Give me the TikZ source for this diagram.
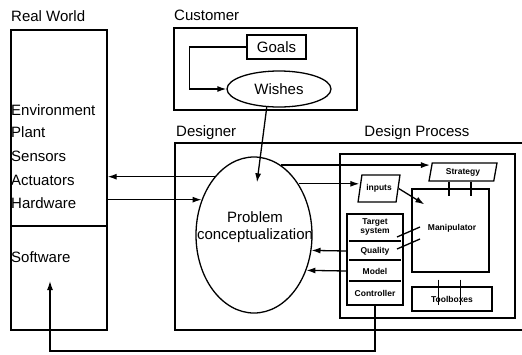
\documentclass[tikz,border=0pt]{standalone}
\usepackage{fontspec}
\setmainfont{Liberation Sans}
\usetikzlibrary{shapes.geometric,arrows.meta}

\tikzstyle{box}=[draw, line width=1.3pt, inner sep=0pt]
\tikzstyle{com}=[line width=1.3pt, -{Latex[length=9pt,width=6pt]}]
\tikzstyle{link}=[line width=1.3pt]
\tikzstyle{lbl}=[inner sep=0pt, font=\fontsize{15}{17}\selectfont]
\tikzstyle{sml}=[inner sep=0pt, font=\fontsize{8.5}{9.5}\selectfont\bfseries]
\tikzstyle{slant}=[trapezium, trapezium stretches=true]

\begin{document}
\begin{tikzpicture}[x=1pt, y=-1pt]
      \useasboundingbox (0,0) rectangle (522,354);

      % real world
      \node[lbl, anchor=west] (rwl) at (11,16) {Real World};
      \node[box, minimum width=96, minimum height=300] (rw) at (59,180) {};
      \draw[link] (rw.west |- 0,226) -- (rw.east |- 0,226);
      \node[lbl, anchor=west] (env) at (11,110) {Environment};
      \node[lbl, anchor=west] (pla) at (11,132) {Plant};
      \node[lbl, anchor=west] (sen) at (11,156) {Sensors};
      \node[lbl, anchor=west] (act) at (11,180) {Actuators};
      \node[lbl, anchor=west] (hw) at (11,203) {Hardware};
      \node[lbl, anchor=west] (sw) at (11,257) {Software};
      \coordinate (swin) at (50,281);

      % customer
      \node[lbl, anchor=west] (cul) at (174,15) {Customer};
      \node[box, minimum width=183, minimum height=82] (cu) at (265.5,69) {};
      \node[box, lbl, minimum width=59, minimum height=24] (go) at (276.5,47) {Goals};
      \node[box, lbl, ellipse, minimum width=104, minimum height=36] (ws) at (279,89) {Wishes};
      \draw[com] (go.west) -- ++(-57,0) |- (ws.west);

      % designer, open to the right
      \node[lbl, anchor=west] (del) at (176,133) {Designer};
      \draw[link] (522,143) -- (175,143) -- (175,330) -- (522,330);
      \node[box, ellipse, minimum width=116, minimum height=156] (pc) at (254,235) {};
      \node[lbl, align=center] (pct) at (255,227) {Problem\\conceptualization};
      \draw[com] (ws.236) -- ([shift={(3,26)}]pc.north);
      \draw[com] (pc.124) -- (pc.124 -| rw.east);
      \draw[com] (pc.146 -| rw.east) -- (pc.146);

      % design process
      \node[lbl] (dpl) at (417,133) {Design Process};
      \node[box, minimum width=175, minimum height=164] (dp) at (427.5,236) {};
      \node[box, sml, slant, trapezium left angle=77, trapezium right angle=103,
            minimum width=68, minimum height=18] (st) at (463,172) {Strategy};
      \node[box, sml, slant, trapezium left angle=70, trapezium right angle=110,
            minimum width=42, minimum height=27] (in) at (379,188.5) {inputs};
      \node[box, minimum width=77, minimum height=83] (mp) at (450.5,230.5) {};
      \node[sml] (mpt) at (452,228) {Manipulator};
      \node[box, sml, minimum width=80, minimum height=24] (tb) at (452,299) {Toolboxes};

      \node[box, minimum width=56, minimum height=91] (col) at (375,259.5) {};
      \node[sml, align=center] (ts) at (375,227) {Target\\system};
      \node[sml] (ql) at (375,251) {Quality};
      \node[sml] (md) at (375,271) {Model};
      \node[sml] (ct) at (375,293) {Controller};
      \foreach \y in {241,260,281}
        \draw[link] ([xshift=3]col.west |- 0,\y) -- ([xshift=-3]col.east |- 0,\y);

      \draw[com] (pc.69) -- (pc.69 -| st.west);
      \draw[com] (pc.49) -- (pc.49 -| in.west);
      \draw[com] (in.east) -- ([shift={(13,16)}]mp.north west);
      \foreach \dx in {-14,8}
        \draw[link] ([xshift=\dx]st.south) -- ++(0,14);
      \foreach \dx in {-12,10}
        \draw[link] ([xshift=\dx,yshift=-7]mp.south) -- ++(0,25);
      \draw[link] (397,237) -- (420,227);
      \draw[link] (397,249) -- (420,239);
      \draw[com] (col.west |- ql) -- (pc.-15);
      \draw[com] (col.west |- md) -- (pc.-34);

      % feedback to software
      \draw[com] (col.south) -- (col.south |- 0,351) -| (swin);
\end{tikzpicture}
\end{document}
